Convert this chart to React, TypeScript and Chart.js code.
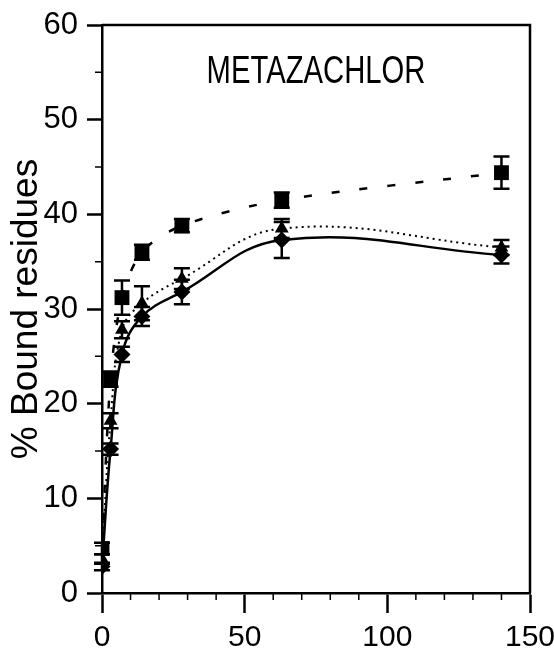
import React, { useEffect, useRef } from 'react';
import { Chart, registerables } from 'chart.js';

Chart.register(...registerables);

const days = [0, 3, 7, 14, 28, 63, 140];
const squareValues = [4.7, 22.6, 31.2, 36.0, 38.8, 41.5, 44.4];
const squareErrors = [0.6, 0.8, 1.8, 0.8, 0.7, 0.8, 1.7];
const triangleValues = [3.6, 18.2, 27.8, 30.6, 33.2, 38.5, 36.5];
const triangleErrors = [0.5, 0.8, 0.9, 1.8, 1.1, 1.0, 0.8];
const diamondValues = [2.8, 15.2, 25.2, 29.2, 31.8, 37.3, 35.7];
const diamondErrors = [0.4, 0.6, 0.8, 1.0, 1.3, 1.9, 0.9];
const yMinorTicks = [5, 15, 25, 35, 45, 55];
const xMinorTicks = [10, 20, 30, 40, 60, 70, 80, 90, 110, 120, 130, 140];
const chartTitle = 'METAZACHLOR';
const yAxisLabel = '% Bound residues';

const FONT = "'Liberation Sans', Arial, sans-serif";

const errorBars = [squareErrors, triangleErrors, diamondErrors];

const extrasPlugin = {
  id: 'extras',
  afterDatasetsDraw(chart: any) {
    const ctx = chart.ctx;
    const xs = chart.scales.x;
    const ys = chart.scales.y;
    ctx.save();
    ctx.strokeStyle = '#000';
    ctx.lineWidth = 2.5;
    chart.data.datasets.forEach((ds: any, i: number) => {
      const errs = errorBars[i];
      ds.data.forEach((p: any, j: number) => {
        const e = errs[j];
        const px = xs.getPixelForValue(p.x);
        const top = ys.getPixelForValue(p.y + e);
        const bot = ys.getPixelForValue(p.y - e);
        ctx.beginPath();
        ctx.moveTo(px, top);
        ctx.lineTo(px, bot);
        ctx.moveTo(px - 8, top);
        ctx.lineTo(px + 8, top);
        ctx.moveTo(px - 8, bot);
        ctx.lineTo(px + 8, bot);
        ctx.stroke();
      });
    });
    ctx.restore();
  },
  afterDraw(chart: any) {
    const ctx = chart.ctx;
    const a = chart.chartArea;
    const xs = chart.scales.x;
    const ys = chart.scales.y;
    ctx.save();
    ctx.strokeStyle = '#000';
    ctx.lineWidth = 2.5;
    ctx.beginPath();
    ctx.moveTo(a.left, a.top);
    ctx.lineTo(a.right, a.top);
    ctx.lineTo(a.right, a.bottom);
    ctx.stroke();
    ctx.lineWidth = 1.5;
    ctx.beginPath();
    yMinorTicks.forEach((v) => {
      const py = ys.getPixelForValue(v);
      ctx.moveTo(a.left - 7, py);
      ctx.lineTo(a.left, py);
    });
    xMinorTicks.forEach((v) => {
      const px = xs.getPixelForValue(v);
      ctx.moveTo(px, a.bottom);
      ctx.lineTo(px, a.bottom + 7);
    });
    ctx.stroke();
    ctx.fillStyle = '#000';
    ctx.font = `38px ${FONT}`;
    ctx.textAlign = 'center';
    ctx.textBaseline = 'middle';
    ctx.translate((a.left + a.right) / 2, a.top + 48);
    ctx.scale(0.77, 1);
    ctx.fillText(chartTitle, 0, 0);
    ctx.restore();
  },
};

export default function App() {
  const ref = useRef<HTMLCanvasElement>(null);
  useEffect(() => {
    const toPts = (vals: number[]) => days.map((d, i) => ({ x: d, y: vals[i] }));
    const chart = new Chart(ref.current as HTMLCanvasElement, {
      type: 'line',
      data: {
        datasets: [
          {
            label: 'squares',
            data: toPts(squareValues),
            borderColor: '#000',
            backgroundColor: '#000',
            borderWidth: 2.5,
            borderDash: [8, 20],
            tension: 0.3,
            pointStyle: 'rect',
            pointRadius: 10.5,
            pointBorderWidth: 0,
          },
          {
            label: 'triangles',
            data: toPts(triangleValues),
            borderColor: '#000',
            backgroundColor: '#000',
            borderWidth: 2,
            borderDash: [2, 4],
            tension: 0.4,
            pointStyle: 'triangle',
            pointRadius: 8,
            pointBorderWidth: 0,
          },
          {
            label: 'diamonds',
            data: toPts(diamondValues),
            borderColor: '#000',
            backgroundColor: '#000',
            borderWidth: 2.5,
            tension: 0.4,
            pointStyle: 'rectRot',
            pointRadius: 8.5,
            pointBorderWidth: 0,
          },
        ],
      },
      options: {
        responsive: false,
        animation: false,
        layout: { padding: { top: 25, right: 24, left: 0, bottom: 0 } },
        plugins: { legend: { display: false }, tooltip: { enabled: false }, title: { display: false } },
        scales: {
          x: {
            type: 'linear',
            min: 0,
            max: 150,
            afterFit: (s: any) => { s.height = 59; s.paddingRight = 0; s.paddingLeft = 0; },
            grid: { drawOnChartArea: false, drawTicks: true, tickLength: 20, tickWidth: 2.5, color: '#000' },
            border: { display: true, width: 2.5, color: '#000' },
            ticks: { stepSize: 50, color: '#000', padding: 7, maxRotation: 0, font: { family: FONT, size: 30 } },
          },
          y: {
            type: 'linear',
            min: 0,
            max: 60,
            afterFit: (s: any) => { s.width = 102; s.paddingTop = 0; s.paddingBottom = 0; },
            grid: { drawOnChartArea: false, drawTicks: true, tickLength: 15, tickWidth: 2.5, color: '#000' },
            border: { display: true, width: 2.5, color: '#000' },
            ticks: { stepSize: 10, color: '#000', padding: 9, font: { family: FONT, size: 31 } },
            title: { display: true, text: yAxisLabel, color: '#000', padding: { top: 5, bottom: 0 }, font: { family: FONT, size: 37, lineHeight: 1.2 } },
          },
        },
      },
      plugins: [extrasPlugin],
    } as any);
    return () => chart.destroy();
  }, []);
  return (
    <div style={{ position: 'fixed', left: 0, top: 0, width: 554, height: 652, background: '#fff' }}>
      <canvas ref={ref} width={554} height={652} style={{ width: 554, height: 652 }} />
    </div>
  );
}
